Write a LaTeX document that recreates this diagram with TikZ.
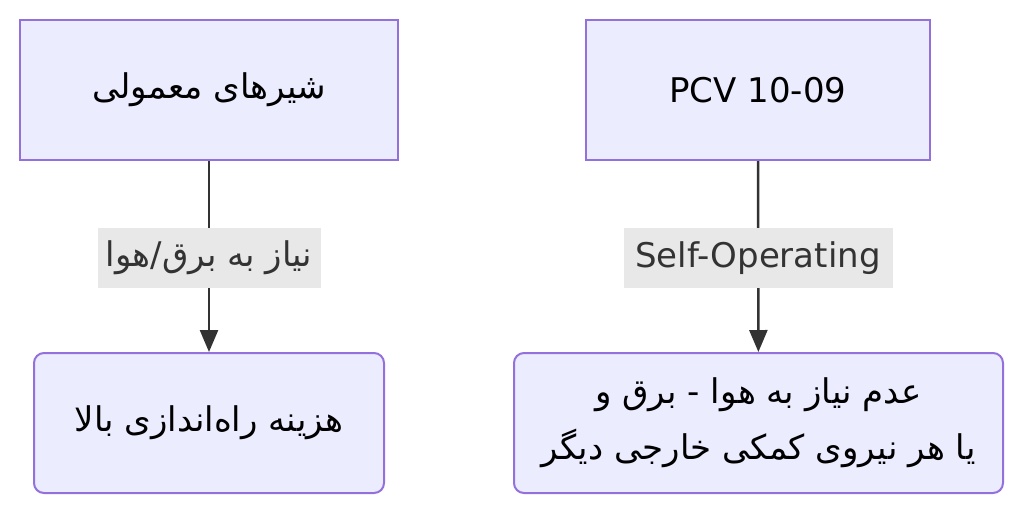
\documentclass[tikz,border=0pt]{standalone}
\usepackage{fontspec}
\setmainfont{DejaVu Sans}
\newfontfamily\arabicfont[Script=Arabic]{DejaVu Sans}
\TeXXeTstate=1
\usetikzlibrary{arrows.meta}
\definecolor{nfill}{HTML}{ECECFF}
\definecolor{nline}{HTML}{9370DB}
\definecolor{lfill}{HTML}{E8E8E8}
\definecolor{eline}{HTML}{333333}
\tikzset{
 sq/.style={draw=nline,fill=nfill,line width=2pt,inner sep=0pt,font=\fontsize{34}{56}\selectfont,text=black},
 rd/.style={sq,rounded corners=10pt},
 lab/.style={fill=lfill,inner sep=0pt,font=\fontsize{34}{40}\selectfont,text=eline},
 ed/.style={draw=eline,line width=2.5pt,-{Triangle[length=22pt,width=18pt]}}
}
\begin{document}
\begin{tikzpicture}[x=1pt,y=-1pt]
\useasboundingbox (0,0) rectangle (1024,515);
\node[sq,minimum width=378pt,minimum height=140pt] (a) at (209,90) {\arabicfont\beginR شیرهای معمولی\endR};
\node[sq,minimum width=344pt,minimum height=140pt] (b) at (758,90) {PCV 10-09};
\node[rd,minimum width=350pt,minimum height=140pt] (c) at (209,423) {\arabicfont\beginR هزینه راه‌اندازی بالا\endR};
\node[rd,minimum width=489pt,minimum height=140pt,align=center] (d) at (758.5,423) {\arabicfont\beginR عدم نیاز به هوا - برق و\endR\\\arabicfont\beginR یا هر نیروی کمکی خارجی دیگر\endR};
\draw[ed] (a) -- (c);
\draw[ed] (b) -- (d);
\node[lab,minimum width=223pt,minimum height=60pt] (l1) at (209,258) {\arabicfont\beginR نیاز به برق/هوا\endR};
\node[lab,minimum width=269pt,minimum height=60pt] (l2) at (758,258) {Self-Operating};
\end{tikzpicture}
\end{document}
